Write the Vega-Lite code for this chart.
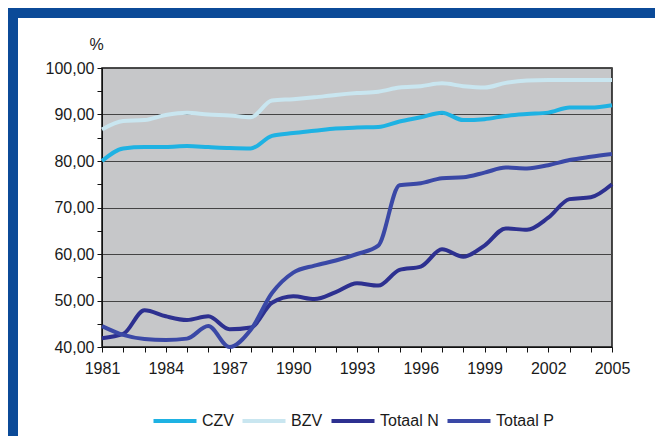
{
  "$schema": "https://vega.github.io/schema/vega-lite/v6.json",
  "background": "white",
  "padding": {"left": 8, "top": 8, "right": 0, "bottom": 0},
  "config": {"view": {"stroke": null}, "font": "Liberation Sans"},
  "bounds": "flush",
  "spacing": 0,
  "vconcat": [
    {
      "width": 647, "height": 10,
      "data": {"values": [{}]},
      "mark": {"type": "point", "opacity": 0},
      "view": {"fill": "#0b4a98", "stroke": null}
    },
    {
      "bounds": "flush",
      "spacing": 84,
      "hconcat": [
        {
          "width": 10, "height": 418,
          "data": {"values": [{}]},
          "mark": {"type": "point", "opacity": 0},
          "view": {"fill": "#0b4a98", "stroke": null}
        },
        {
          "bounds": "flush",
          "spacing": 0,
          "vconcat": [
            {
              "width": 10, "height": 50,
              "data": {"values": [{}]},
              "mark": {"type": "point", "opacity": 0},
              "view": {"stroke": null}
            },
            {
              "width": 510, "height": 279,
              "view": {"fill": "#c6c7c9", "stroke": "#111111", "strokeWidth": 1.5},
              "data": {"values": [
                {"year": 1981, "series": "CZV", "value": 80.0},
                {"year": 1982, "series": "CZV", "value": 82.7},
                {"year": 1983, "series": "CZV", "value": 83.0},
                {"year": 1984, "series": "CZV", "value": 83.0},
                {"year": 1985, "series": "CZV", "value": 83.2},
                {"year": 1986, "series": "CZV", "value": 83.0},
                {"year": 1987, "series": "CZV", "value": 82.8},
                {"year": 1988, "series": "CZV", "value": 82.7},
                {"year": 1989, "series": "CZV", "value": 85.4},
                {"year": 1990, "series": "CZV", "value": 86.0},
                {"year": 1991, "series": "CZV", "value": 86.5},
                {"year": 1992, "series": "CZV", "value": 87.0},
                {"year": 1993, "series": "CZV", "value": 87.2},
                {"year": 1994, "series": "CZV", "value": 87.3},
                {"year": 1995, "series": "CZV", "value": 88.5},
                {"year": 1996, "series": "CZV", "value": 89.4},
                {"year": 1997, "series": "CZV", "value": 90.4},
                {"year": 1998, "series": "CZV", "value": 88.8},
                {"year": 1999, "series": "CZV", "value": 89.0},
                {"year": 2000, "series": "CZV", "value": 89.7},
                {"year": 2001, "series": "CZV", "value": 90.1},
                {"year": 2002, "series": "CZV", "value": 90.4},
                {"year": 2003, "series": "CZV", "value": 91.5},
                {"year": 2004, "series": "CZV", "value": 91.5},
                {"year": 2005, "series": "CZV", "value": 92.0},
                {"year": 1981, "series": "BZV", "value": 86.8},
                {"year": 1982, "series": "BZV", "value": 88.6},
                {"year": 1983, "series": "BZV", "value": 88.8},
                {"year": 1984, "series": "BZV", "value": 89.9},
                {"year": 1985, "series": "BZV", "value": 90.4},
                {"year": 1986, "series": "BZV", "value": 90.0},
                {"year": 1987, "series": "BZV", "value": 89.8},
                {"year": 1988, "series": "BZV", "value": 89.4},
                {"year": 1989, "series": "BZV", "value": 93.0},
                {"year": 1990, "series": "BZV", "value": 93.3},
                {"year": 1991, "series": "BZV", "value": 93.7},
                {"year": 1992, "series": "BZV", "value": 94.2},
                {"year": 1993, "series": "BZV", "value": 94.6},
                {"year": 1994, "series": "BZV", "value": 94.9},
                {"year": 1995, "series": "BZV", "value": 95.8},
                {"year": 1996, "series": "BZV", "value": 96.1},
                {"year": 1997, "series": "BZV", "value": 96.7},
                {"year": 1998, "series": "BZV", "value": 96.1},
                {"year": 1999, "series": "BZV", "value": 95.8},
                {"year": 2000, "series": "BZV", "value": 96.8},
                {"year": 2001, "series": "BZV", "value": 97.3},
                {"year": 2002, "series": "BZV", "value": 97.4},
                {"year": 2003, "series": "BZV", "value": 97.4},
                {"year": 2004, "series": "BZV", "value": 97.4},
                {"year": 2005, "series": "BZV", "value": 97.4},
                {"year": 1981, "series": "Totaal N", "value": 41.9},
                {"year": 1982, "series": "Totaal N", "value": 42.8},
                {"year": 1983, "series": "Totaal N", "value": 47.9},
                {"year": 1984, "series": "Totaal N", "value": 46.6},
                {"year": 1985, "series": "Totaal N", "value": 45.8},
                {"year": 1986, "series": "Totaal N", "value": 46.6},
                {"year": 1987, "series": "Totaal N", "value": 43.8},
                {"year": 1988, "series": "Totaal N", "value": 44.2},
                {"year": 1989, "series": "Totaal N", "value": 49.5},
                {"year": 1990, "series": "Totaal N", "value": 50.9},
                {"year": 1991, "series": "Totaal N", "value": 50.3},
                {"year": 1992, "series": "Totaal N", "value": 51.8},
                {"year": 1993, "series": "Totaal N", "value": 53.7},
                {"year": 1994, "series": "Totaal N", "value": 53.2},
                {"year": 1995, "series": "Totaal N", "value": 56.6},
                {"year": 1996, "series": "Totaal N", "value": 57.3},
                {"year": 1997, "series": "Totaal N", "value": 61.0},
                {"year": 1998, "series": "Totaal N", "value": 59.4},
                {"year": 1999, "series": "Totaal N", "value": 61.8},
                {"year": 2000, "series": "Totaal N", "value": 65.5},
                {"year": 2001, "series": "Totaal N", "value": 65.2},
                {"year": 2002, "series": "Totaal N", "value": 67.8},
                {"year": 2003, "series": "Totaal N", "value": 71.8},
                {"year": 2004, "series": "Totaal N", "value": 72.2},
                {"year": 2005, "series": "Totaal N", "value": 75.0},
                {"year": 1981, "series": "Totaal P", "value": 44.5},
                {"year": 1982, "series": "Totaal P", "value": 42.6},
                {"year": 1983, "series": "Totaal P", "value": 41.7},
                {"year": 1984, "series": "Totaal P", "value": 41.5},
                {"year": 1985, "series": "Totaal P", "value": 41.8},
                {"year": 1986, "series": "Totaal P", "value": 44.5},
                {"year": 1987, "series": "Totaal P", "value": 40.0},
                {"year": 1988, "series": "Totaal P", "value": 43.7},
                {"year": 1989, "series": "Totaal P", "value": 51.6},
                {"year": 1990, "series": "Totaal P", "value": 56.0},
                {"year": 1991, "series": "Totaal P", "value": 57.5},
                {"year": 1992, "series": "Totaal P", "value": 58.6},
                {"year": 1993, "series": "Totaal P", "value": 60.0},
                {"year": 1994, "series": "Totaal P", "value": 61.8},
                {"year": 1995, "series": "Totaal P", "value": 74.8},
                {"year": 1996, "series": "Totaal P", "value": 75.2},
                {"year": 1997, "series": "Totaal P", "value": 76.3},
                {"year": 1998, "series": "Totaal P", "value": 76.5},
                {"year": 1999, "series": "Totaal P", "value": 77.5},
                {"year": 2000, "series": "Totaal P", "value": 78.6},
                {"year": 2001, "series": "Totaal P", "value": 78.4},
                {"year": 2002, "series": "Totaal P", "value": 79.1},
                {"year": 2003, "series": "Totaal P", "value": 80.2},
                {"year": 2004, "series": "Totaal P", "value": 80.9},
                {"year": 2005, "series": "Totaal P", "value": 81.5}
              ]},
              "mark": {"type": "line", "interpolate": "monotone"},
              "encoding": {
                "x": {
                  "field": "year", "type": "quantitative",
                  "scale": {"domain": [1981, 2005], "nice": false, "zero": false},
                  "axis": {
                    "title": null,
                    "values": [1981,1982,1983,1984,1985,1986,1987,1988,1989,1990,1991,1992,1993,1994,1995,1996,1997,1998,1999,2000,2001,2002,2003,2004,2005],
                    "format": "d",
                    "labelExpr": "(datum.value - 1981) % 3 === 0 ? datum.label : ''",
                    "labelOverlap": false,
                    "labelFlush": false,
                    "labelFontSize": 16,
                    "labelColor": "#1a1a1a",
                    "labelPadding": 8,
                    "tickSize": 5,
                    "tickColor": "#111111",
                    "domainColor": "#111111",
                    "grid": false
                  }
                },
                "y": {
                  "field": "value", "type": "quantitative",
                  "scale": {"domain": [40, 100], "nice": false, "zero": false},
                  "axis": {
                    "title": "%",
                    "titleAngle": 0,
                    "titleAlign": "center",
                    "titleBaseline": "middle",
                    "titleX": -6,
                    "titleY": -24,
                    "titleFontSize": 16,
                    "titleFontWeight": "normal",
                    "titleColor": "#1a1a1a",
                    "values": [40,45,50,55,60,65,70,75,80,85,90,95,100],
                    "labelExpr": "datum.value % 10 === 0 ? replace(format(datum.value, '.2f'), '.', ',') : ''",
                    "labelOverlap": false,
                    "labelFlush": false,
                    "labelFontSize": 16,
                    "labelColor": "#1a1a1a",
                    "labelPadding": 3,
                    "tickSize": 5,
                    "tickColor": "#111111",
                    "domainColor": "#111111",
                    "grid": true,
                    "gridColor": "#444444",
                    "gridWidth": 1,
                    "gridOpacity": {"condition": {"test": "datum.value % 10 !== 0", "value": 0}, "value": 1}
                  }
                },
                "color": {
                  "field": "series", "type": "nominal",
                  "scale": {
                    "domain": ["CZV", "BZV", "Totaal N", "Totaal P"],
                    "range": ["#1eb2e3", "#c9e6f0", "#2d3090", "#3a48a6"]
                  },
                  "legend": {
                    "title": null,
                    "orient": "none",
                    "legendX": 143,
                    "legendY": 389,
                    "direction": "horizontal",
                    "symbolType": "stroke",
                    "symbolSize": 1850,
                    "symbolStrokeWidth": 5,
                    "labelFontSize": 16,
                    "labelColor": "#1a1a1a",
                    "labelOffset": 3,
                    "columnPadding": 0
                  }
                },
                "strokeWidth": {
                  "field": "series", "type": "nominal",
                  "scale": {"domain": ["CZV", "BZV", "Totaal N", "Totaal P"], "range": [4, 4, 5.5, 5.5]},
                  "legend": null
                }
              }
            }
          ]
        }
      ]
    }
  ]
}
